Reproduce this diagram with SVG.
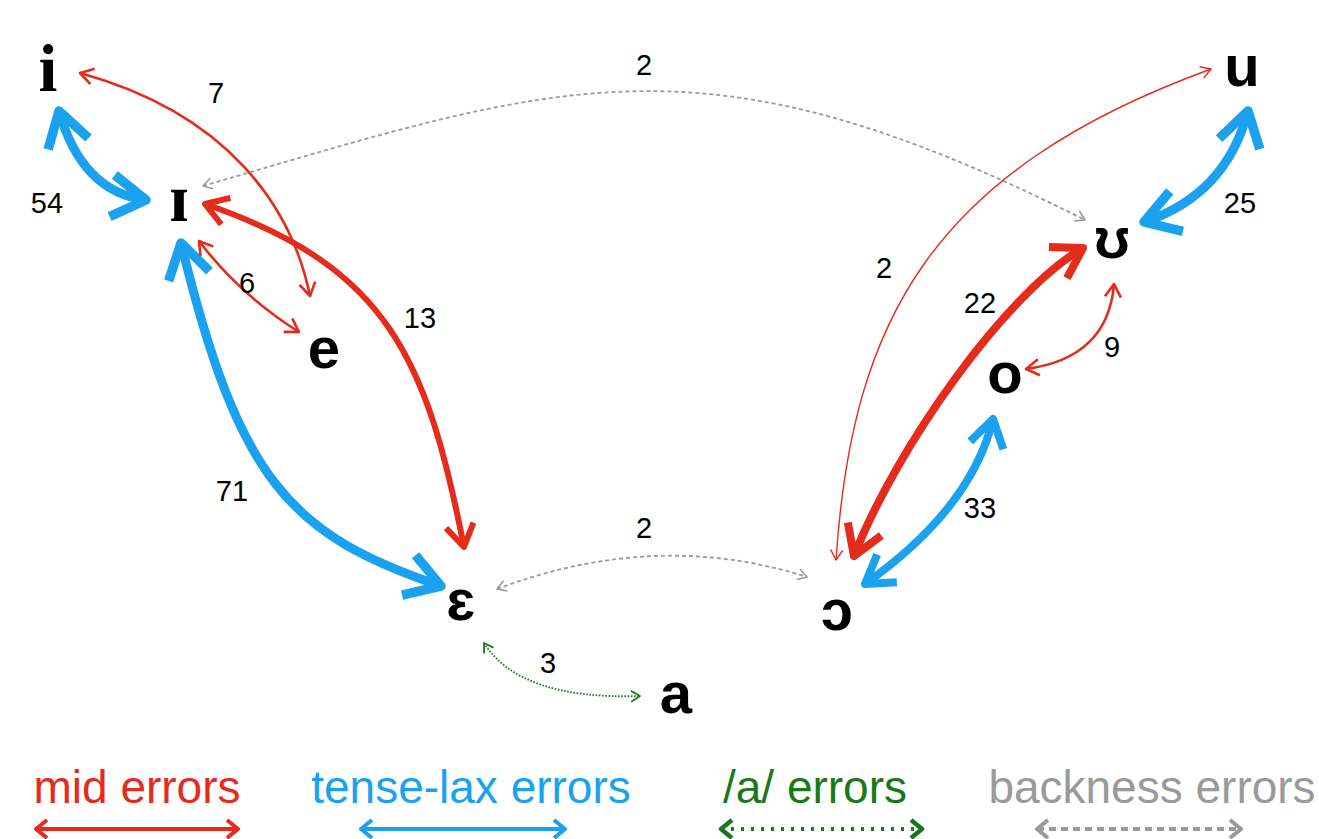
<svg xmlns="http://www.w3.org/2000/svg" width="1319" height="839" viewBox="0 0 1319 839">
<style>
  .bg{fill:#ffffff}
  .ser{font-family:"Liberation Serif","DejaVu Serif",serif;font-weight:bold;font-size:68px;fill:#000;text-anchor:middle}
  .san{font-family:"Liberation Sans","DejaVu Sans",sans-serif;font-weight:bold;font-size:58px;fill:#000;text-anchor:middle}
  .num{font-family:"Liberation Sans","DejaVu Sans",sans-serif;font-size:29px;fill:#000;text-anchor:middle}
  .leg{font-family:"Liberation Sans","DejaVu Sans",sans-serif;font-size:46px;text-anchor:middle}
  .c{fill:none;stroke-linecap:butt}
  .red{stroke:#E42B1C}
  .blue{stroke:#1AA1EF}
  .gray{stroke:#9A9A9A}
  .green{stroke:#17791A}
  .mk{fill:none;stroke-linejoin:round;stroke-linecap:butt}
</style>
<defs>
  <marker id="mBlueL" markerUnits="userSpaceOnUse" orient="auto-start-reverse" refX="0" refY="0" markerWidth="1" markerHeight="1" style="overflow:visible"><path class="mk" d="M-34,-21 L0,0 L-34,21" stroke="#1AA1EF" stroke-width="9.5"/></marker>
  <marker id="mBlueM" markerUnits="userSpaceOnUse" orient="auto-start-reverse" refX="0" refY="0" markerWidth="1" markerHeight="1" style="overflow:visible"><path class="mk" d="M-27,-17 L0,0 L-27,17" stroke="#1AA1EF" stroke-width="8"/></marker>
  <marker id="mRedL" markerUnits="userSpaceOnUse" orient="auto-start-reverse" refX="0" refY="0" markerWidth="1" markerHeight="1" style="overflow:visible"><path class="mk" d="M-29,-18 L0,0 L-29,18" stroke="#E42B1C" stroke-width="8"/></marker>
  <marker id="mRedM" markerUnits="userSpaceOnUse" orient="auto-start-reverse" refX="0" refY="0" markerWidth="1" markerHeight="1" style="overflow:visible"><path class="mk" d="M-22,-14 L0,0 L-22,14" stroke="#E42B1C" stroke-width="6"/></marker>
  <marker id="mRedS" markerUnits="userSpaceOnUse" orient="auto-start-reverse" refX="0" refY="0" markerWidth="1" markerHeight="1" style="overflow:visible"><path class="mk" d="M-13,-8 L0,0 L-13,8" stroke="#E42B1C" stroke-width="2.6"/></marker>
  <marker id="mRedT" markerUnits="userSpaceOnUse" orient="auto-start-reverse" refX="0" refY="0" markerWidth="1" markerHeight="1" style="overflow:visible"><path class="mk" d="M-10,-6 L0,0 L-10,6" stroke="#E42B1C" stroke-width="1.4"/></marker>
  <marker id="mGray" markerUnits="userSpaceOnUse" orient="auto-start-reverse" refX="0" refY="0" markerWidth="1" markerHeight="1" style="overflow:visible"><path class="mk" d="M-9,-5.5 L0,0 L-9,5.5" stroke="#9A9A9A" stroke-width="1.6"/></marker>
  <marker id="mGreen" markerUnits="userSpaceOnUse" orient="auto-start-reverse" refX="0" refY="0" markerWidth="1" markerHeight="1" style="overflow:visible"><path class="mk" d="M-9,-5.5 L0,0 L-9,5.5" stroke="#17791A" stroke-width="1.8"/></marker>
  <marker id="lRed" markerUnits="userSpaceOnUse" orient="auto-start-reverse" refX="0" refY="0" markerWidth="1" markerHeight="1" style="overflow:visible"><path class="mk" d="M-11,-9 L0,0 L-11,9" stroke="#E42B1C" stroke-width="4"/></marker>
  <marker id="lBlue" markerUnits="userSpaceOnUse" orient="auto-start-reverse" refX="0" refY="0" markerWidth="1" markerHeight="1" style="overflow:visible"><path class="mk" d="M-11,-9 L0,0 L-11,9" stroke="#1AA1EF" stroke-width="4"/></marker>
  <marker id="lGreen" markerUnits="userSpaceOnUse" orient="auto-start-reverse" refX="0" refY="0" markerWidth="1" markerHeight="1" style="overflow:visible"><path class="mk" d="M-11,-9 L0,0 L-11,9" stroke="#17791A" stroke-width="4.5"/></marker>
  <marker id="lGray" markerUnits="userSpaceOnUse" orient="auto-start-reverse" refX="0" refY="0" markerWidth="1" markerHeight="1" style="overflow:visible"><path class="mk" d="M-11,-9 L0,0 L-11,9" stroke="#9A9A9A" stroke-width="4"/></marker>
</defs>
<rect class="bg" x="0" y="0" width="1319" height="839"/>

<g id="connectors">
  <!-- i <-> ɪ  54 -->
  <path class="c blue" stroke-width="9" d="M59,111 Q82,192 146,200" marker-start="url(#mBlueL)" marker-end="url(#mBlueL)"/>
  <!-- ɪ <-> ɛ  71 -->
  <path class="c blue" stroke-width="9" d="M181,243 C239,481 290,535 441,586" marker-start="url(#mBlueL)" marker-end="url(#mBlueL)"/>
  <!-- ɪ <-> ɛ  13 -->
  <path class="c red" stroke-width="6" d="M205,204 C389,267 427,360 464,547" marker-start="url(#mRedM)" marker-end="url(#mRedM)"/>
  <!-- ɪ <-> e  6 -->
  <path class="c red" stroke-width="2.6" d="M199,241 Q240,295 299,332" marker-start="url(#mRedS)" marker-end="url(#mRedS)"/>
  <!-- i <-> e  7 -->
  <path class="c red" stroke-width="2.6" d="M80,73 C229,114 292,208 310,296" marker-start="url(#mRedS)" marker-end="url(#mRedS)"/>
  <!-- ɪ <-> ʊ  2 (backness) -->
  <path class="c gray" stroke-width="1.8" stroke-dasharray="4 3" d="M203,186 C563,81 702,27 1085,220" marker-start="url(#mGray)" marker-end="url(#mGray)"/>
  <!-- u <-> ɔ  2 -->
  <path class="c red" stroke-width="1.4" d="M1211,69 C932,171 852,320 836,560" marker-start="url(#mRedT)" marker-end="url(#mRedT)"/>
  <!-- ʊ <-> ɔ  22 -->
  <path class="c red" stroke-width="8" d="M1083,248 C1007,292 897,446 854,556" marker-start="url(#mRedL)" marker-end="url(#mRedL)"/>
  <!-- ʊ <-> o  9 -->
  <path class="c red" stroke-width="2.6" d="M1114,284 Q1108,358 1026,369" marker-start="url(#mRedS)" marker-end="url(#mRedS)"/>
  <!-- u <-> ʊ  25 -->
  <path class="c blue" stroke-width="9" d="M1248,111 Q1226,195 1144,222" marker-start="url(#mBlueL)" marker-end="url(#mBlueL)"/>
  <!-- o <-> ɔ  33 -->
  <path class="c blue" stroke-width="8" d="M993,419 Q972,508 865,584" marker-start="url(#mBlueM)" marker-end="url(#mBlueM)"/>
  <!-- ɛ <-> ɔ  2 (backness) -->
  <path class="c gray" stroke-width="1.8" stroke-dasharray="4 3" d="M497,589 Q657,529 807,577" marker-start="url(#mGray)" marker-end="url(#mGray)"/>
  <!-- ɛ <-> a  3 -->
  <path class="c green" stroke-width="1.8" stroke-dasharray="1.6 1.6" d="M484,643 Q520,700 640,696" marker-start="url(#mGreen)" marker-end="url(#mGreen)"/>
</g>

<g id="edge-labels">
  <text class="num" x="216" y="103">7</text>
  <text class="num" x="644" y="75">2</text>
  <text class="num" x="47" y="213">54</text>
  <text class="num" x="247" y="293">6</text>
  <text class="num" x="420" y="328">13</text>
  <text class="num" x="232" y="501">71</text>
  <text class="num" x="644" y="538">2</text>
  <text class="num" x="548" y="673">3</text>
  <text class="num" x="884" y="278">2</text>
  <text class="num" x="980" y="313">22</text>
  <text class="num" x="1112" y="357">9</text>
  <text class="num" x="1240" y="213">25</text>
  <text class="num" x="980" y="518">33</text>
</g>

<g id="node-i"><text class="ser" x="48" y="91">i</text></g>
<g id="node-I"><text class="ser" x="179" y="221">ɪ</text></g>
<g id="node-e"><text class="san" x="324" y="368">e</text></g>
<g id="node-epsilon"><text class="san" x="461" y="620">ɛ</text></g>
<g id="node-a"><text class="san" x="676" y="713">a</text></g>
<g id="node-openo"><text class="san" x="837" y="630">ɔ</text></g>
<g id="node-o"><text class="san" x="1005" y="393">o</text></g>
<g id="node-upsilon"><text class="san" x="1112" y="258">ʊ</text></g>
<g id="node-u"><text class="san" x="1242" y="86">u</text></g>

<g id="legend">
  <text class="leg" x="137" y="803" fill="#E42B1C">mid errors</text>
  <text class="leg" x="471" y="803" fill="#1AA1EF">tense-lax errors</text>
  <text class="leg" x="815" y="803" fill="#17791A">/a/ errors</text>
  <text class="leg" x="1152" y="803" fill="#9A9A9A">backness errors</text>
  <path class="c red" stroke-width="4" d="M36,829 L238,829" marker-start="url(#lRed)" marker-end="url(#lRed)"/>
  <path class="c blue" stroke-width="4" d="M361,829 L565,829" marker-start="url(#lBlue)" marker-end="url(#lBlue)"/>
  <path class="c green" stroke-width="4" stroke-dasharray="3 7" d="M721,829 L922,829" marker-start="url(#lGreen)" marker-end="url(#lGreen)"/>
  <path class="c gray" stroke-width="4" stroke-dasharray="7 5" d="M1037,829 L1241,829" marker-start="url(#lGray)" marker-end="url(#lGray)"/>
</g>
</svg>
